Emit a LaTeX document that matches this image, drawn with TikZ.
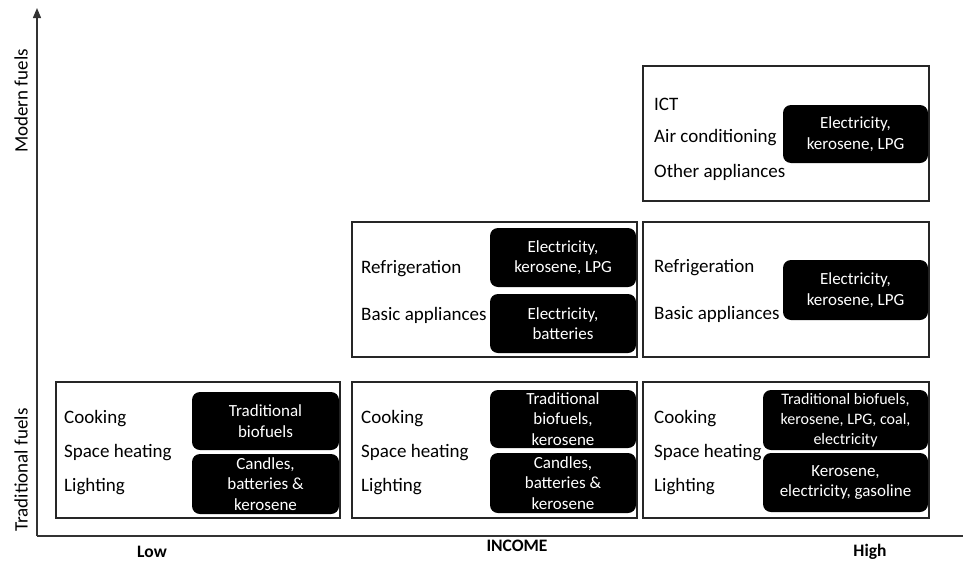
\documentclass[tikz,border=0pt]{standalone}
\usepackage{fontspec}
\setmainfont{Carlito}
\usetikzlibrary{arrows.meta}
\begin{document}
\begin{tikzpicture}[x=1pt,y=-1pt,
  panel/.style={draw=black!85, line width=1.3pt, fill=white, rectangle, inner sep=0pt},
  fuel/.style={fill=black, rectangle, rounded corners=8pt, inner sep=0pt, text=white, align=center,
    font=\fontsize{17}{20.5}\selectfont},
  fuelsm/.style={fuel, font=\fontsize{16}{20}\selectfont},
  use/.style={anchor=west, inner sep=0pt, font=\fontsize{19}{22}\selectfont},
  axislabel/.style={inner sep=0pt, font=\fontsize{19}{22}\selectfont, rotate=90},
  tick/.style={inner sep=0pt, font=\bfseries\fontsize{17.5}{20}\selectfont},
  axis/.style={draw=black!80, line width=1.3pt}
]
\useasboundingbox (0,0) rectangle (963,562);

% axes
\coordinate (O) at (37,536);
\coordinate (Ytop) at (37,8);
\coordinate (Xend) at (963,536);
\draw[axis, -{Triangle[length=10pt,width=8pt]}] (O) -- (Ytop);
\draw[axis] (O) -- (Xend);

\node[axislabel] (modern) at (21,101) {Modern fuels};
\node[axislabel] (trad) at (21,470) {Traditional fuels};
\node[tick] (low) at (152,552) {Low};
\node[tick] (income) at (517,546) {INCOME};
\node[tick] (high) at (870,552) {High};

% panels
\node[panel, minimum width=284pt, minimum height=136pt] (p11) at (198,450) {};
\node[panel, minimum width=285pt, minimum height=136pt] (p21) at (494.5,450) {};
\node[panel, minimum width=286pt, minimum height=136pt] (p31) at (786,450) {};
\node[panel, minimum width=285pt, minimum height=135pt] (p22) at (494.5,289.5) {};
\node[panel, minimum width=286pt, minimum height=135pt] (p32) at (786,289.5) {};
\node[panel, minimum width=286pt, minimum height=135pt] (p33) at (786,133.5) {};

% fuel boxes
\node[fuel, minimum width=147pt, minimum height=58pt] (b1a) at (265.5,421) {Traditional\\biofuels};
\node[fuel, minimum width=147pt, minimum height=60pt] (b1b) at (265.5,484) {Candles,\\batteries \&\\kerosene};
\node[fuel, minimum width=146pt, minimum height=58pt] (b2a) at (563,419) {Traditional\\biofuels,\\kerosene};
\node[fuel, minimum width=146pt, minimum height=60pt] (b2b) at (563,483) {Candles,\\batteries \&\\kerosene};
\node[fuelsm, minimum width=165pt, minimum height=60pt] (b3a) at (845.5,420) {Traditional biofuels,\\kerosene, LPG, coal,\\electricity};
\node[fuel, minimum width=165pt, minimum height=59pt] (b3b) at (845.5,482.5) {Kerosene,\\electricity, gasoline};
\node[fuel, minimum width=146pt, minimum height=59pt] (m2a) at (563,257.5) {Electricity,\\kerosene, LPG};
\node[fuel, minimum width=146pt, minimum height=59pt] (m2b) at (563,323.5) {Electricity,\\batteries};
\node[fuel, minimum width=145pt, minimum height=60pt] (m3) at (855.5,290) {Electricity,\\kerosene, LPG};
\node[fuel, minimum width=145pt, minimum height=58pt] (t3) at (855.5,134) {Electricity,\\kerosene, LPG};

% uses
\node[use] (c1) at (64,419) {Cooking};
\node[use] (h1) at (64,453) {Space heating};
\node[use] (l1) at (64,487) {Lighting};
\node[use] (c2) at (361,419) {Cooking};
\node[use] (h2) at (361,453) {Space heating};
\node[use] (l2) at (361,487) {Lighting};
\node[use] (c3) at (654,419) {Cooking};
\node[use] (h3) at (654,453) {Space heating};
\node[use] (l3) at (654,487) {Lighting};
\node[use] (r2) at (361,269) {Refrigeration};
\node[use] (a2) at (361,315) {Basic appliances};
\node[use] (r3) at (654,268) {Refrigeration};
\node[use] (a3) at (654,314) {Basic appliances};
\node[use] (ict) at (654,104) {ICT};
\node[use] (ac) at (654,138) {Air conditioning};
\node[use] (oa) at (654,172) {Other appliances};
\end{tikzpicture}
\end{document}
